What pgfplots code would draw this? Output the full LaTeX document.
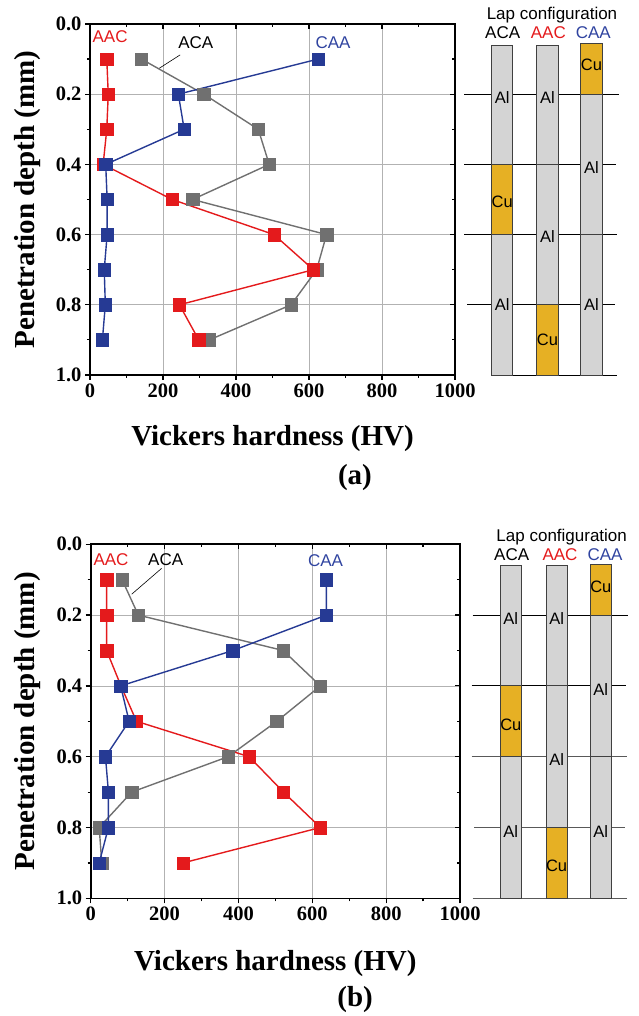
\documentclass[border=0pt]{standalone}
\usepackage{fontspec}
\setmainfont{Liberation Serif}
\newfontfamily\arial{Liberation Sans}
\usepackage{pgfplots}
\pgfplotsset{compat=1.18}
\definecolor{cred}{RGB}{228,26,28}
\definecolor{cblue}{RGB}{38,58,148}
\definecolor{lblue}{RGB}{48,68,160}
\definecolor{cgray}{RGB}{112,112,112}
\definecolor{cu}{RGB}{230,176,36}
\definecolor{al}{RGB}{212,212,212}
\pgfplotsset{
  hvbase/.style={scale only axis, xmin=0, xmax=1000, ymin=0, ymax=1, y dir=reverse,
    xtick={0,200,400,600,800,1000}, ytick={0,0.2,0.4,0.6,0.8,1},
    minor x tick num=1, minor y tick num=1,
    major tick length=5pt, minor tick length=3pt,
    every tick/.style={black, line width=1.2pt},
    /pgf/number format/assume math mode=true,
    /pgf/number format/1000 sep={},
    yticklabel style={/pgf/number format/fixed, /pgf/number format/fixed zerofill, /pgf/number format/precision=1},
    tick label style={font=\fontsize{20.5}{20.5}\selectfont\bfseries},
  },
  hvmain/.style={hvbase, axis line style={line width=1.6pt}, tick align=outside,
    xtick pos=left, ytick pos=left, grid=major,
    major grid style={draw=black!30, line width=0.8pt}, clip=false,
    label style={font=\fontsize{29}{29}\selectfont\bfseries},
    xlabel={Vickers hardness (HV)}, ylabel={Penetration depth (mm)},
  },
  hvover/.style={hvbase, axis line style={draw=none}, tick align=inside,
    xtick pos=right, ytick pos=right, xticklabels={}, yticklabels={}},
  sch/.style={scale only axis, xmin=460, xmax=638, ymin=0, ymax=1, y dir=reverse, hide axis, clip=false},
  sg/.style={cgray, line width=1.4pt, mark=square*, mark size=6.2pt, mark options={fill=cgray, draw=cgray, line width=0.4pt}},
  sr/.style={cred, line width=1.4pt, mark=square*, mark size=6.2pt, mark options={fill=cred, draw=cred, line width=0.4pt}},
  sb/.style={cblue, line width=1.4pt, mark=square*, mark size=6.2pt, mark options={fill=cblue, draw=cblue, line width=0.4pt}},
}
\tikzset{
  lab/.style={font=\arial\fontsize{17}{17}\selectfont, inner sep=0pt},
  sl/.style={font=\arial\fontsize{16.5}{16.5}\selectfont, inner sep=0pt},
  alb/.style={fill=al, draw=black!75, line width=0.8pt},
  cub/.style={fill=cu, draw=black!75, line width=0.8pt},
}
\begin{document}
\begin{tikzpicture}
\useasboundingbox (0,0) rectangle (638pt,1016pt);
% ---------------- panel (a) ----------------
\begin{axis}[hvmain, at={(90pt,641pt)}, anchor=south west, width=365pt, height=351pt,
  xlabel style={at={(axis description cs:0.5,-0.182)}, anchor=center},
  ylabel style={at={(axis description cs:-0.17,0.5)}, anchor=center}]
\addplot[sg] coordinates {(141,0.1) (312,0.2) (461,0.3) (491,0.4) (281,0.5) (648,0.6) (621,0.7) (551,0.8) (327,0.9)};
\addplot[sr] coordinates {(46,0.1) (50,0.2) (46,0.3) (36,0.4) (225,0.5) (504,0.6) (612,0.7) (245,0.8) (298,0.9)};
\addplot[sb] coordinates {(625,0.1) (242,0.2) (258,0.3) (43,0.4) (47,0.5) (47,0.6) (39,0.7) (42,0.8) (34,0.9)};
\node[lab, text=cred] at (axis cs:55,0.037) {AAC};
\node[lab, text=black] at (axis cs:290,0.054) {ACA};
\node[lab, text=lblue] at (axis cs:666,0.054) {CAA};
\draw[black, line width=0.6pt] (axis cs:190,0.126) -- (axis cs:247,0.088);
\node[font=\fontsize{29}{29}\selectfont\bfseries] at (axis description cs:0.726,-0.293) {(a)};
\end{axis}
\begin{axis}[hvover, at={(90pt,641pt)}, anchor=south west, width=365pt, height=351pt]
\addplot[draw=none] coordinates {(0,0)};
\end{axis}
\begin{axis}[sch, at={(460pt,641pt)}, anchor=south west, width=178pt, height=351pt]
\addplot[draw=none] coordinates {(500,0.5)};
\draw[black, line width=0.8pt] (axis cs:464,0.2) -- (axis cs:619,0.2);
\draw[black, line width=0.8pt] (axis cs:464,0.4) -- (axis cs:616,0.4);
\draw[black, line width=0.8pt] (axis cs:464,0.6) -- (axis cs:617,0.6);
\draw[black, line width=0.8pt] (axis cs:467,0.8) -- (axis cs:615,0.8);
\draw[black, line width=0.8pt] (axis cs:491,1) -- (axis cs:617,1);
% ACA
\filldraw[alb] (axis cs:491.7,0.06) rectangle (axis cs:512.7,0.4);
\filldraw[cub] (axis cs:491.7,0.4) rectangle (axis cs:512.7,0.6);
\filldraw[alb] (axis cs:491.7,0.6) rectangle (axis cs:512.7,1);
% AAC
\filldraw[alb] (axis cs:536.7,0.06) rectangle (axis cs:558.3,0.4);
\filldraw[alb] (axis cs:536.7,0.4) rectangle (axis cs:558.3,0.8);
\filldraw[cub] (axis cs:536.7,0.8) rectangle (axis cs:558.3,1);
% CAA
\filldraw[cub] (axis cs:580.7,0.055) rectangle (axis cs:602.3,0.2);
\filldraw[alb] (axis cs:580.7,0.2) rectangle (axis cs:602.3,0.6);
\filldraw[alb] (axis cs:580.7,0.6) rectangle (axis cs:602.3,1);
\node[sl] at (axis cs:502.2,0.21) {Al};
\node[sl] at (axis cs:502.2,0.506) {Cu};
\node[sl] at (axis cs:502.2,0.80) {Al};
\node[sl] at (axis cs:547.5,0.21) {Al};
\node[sl] at (axis cs:547.5,0.606) {Al};
\node[sl] at (axis cs:547.5,0.90) {Cu};
\node[sl] at (axis cs:591.5,0.117) {Cu};
\node[sl] at (axis cs:591.5,0.41) {Al};
\node[sl] at (axis cs:591.5,0.80) {Al};
\node[lab] at (axis cs:552,-0.026) {Lap configuration};
\node[lab, text=black] at (axis cs:502.7,0.026) {ACA};
\node[lab, text=cred] at (axis cs:548.3,0.026) {AAC};
\node[lab, text=lblue] at (axis cs:593.3,0.026) {CAA};
\end{axis}
% ---------------- panel (b) ----------------
\begin{axis}[hvmain, at={(90.7pt,117.7pt)}, anchor=south west, width=369.3pt, height=354pt,
  xlabel style={at={(axis description cs:0.5,-0.183)}, anchor=center},
  ylabel style={at={(axis description cs:-0.17,0.5)}, anchor=center}]
\addplot[sg] coordinates {(85,0.1) (129,0.2) (521,0.3) (622,0.4) (504,0.5) (372,0.6) (111,0.7) (23,0.8) (30,0.9)};
\addplot[sr] coordinates {(43,0.1) (43,0.2) (43,0.3) (82,0.4) (124,0.5) (429,0.6) (522,0.7) (622,0.8) (250,0.9)};
\addplot[sb] coordinates {(638,0.1) (638,0.2) (385,0.3) (81,0.4) (104,0.5) (40,0.6) (48,0.7) (48,0.8) (23,0.9)};
\node[lab, text=cred] at (axis cs:55,0.042) {AAC};
\node[lab, text=black] at (axis cs:203,0.042) {ACA};
\node[lab, text=lblue] at (axis cs:636,0.047) {CAA};
\draw[black, line width=0.6pt] (axis cs:111,0.141) -- (axis cs:192,0.068);
\node[font=\fontsize{29}{29}\selectfont\bfseries] at (axis description cs:0.716,-0.285) {(b)};
\end{axis}
\begin{axis}[hvover, at={(90.7pt,117.7pt)}, anchor=south west, width=369.3pt, height=354pt]
\addplot[draw=none] coordinates {(0,0)};
\end{axis}
\begin{axis}[sch, at={(460pt,117.7pt)}, anchor=south west, width=178pt, height=354pt]
\addplot[draw=none] coordinates {(500,0.5)};
\draw[black, line width=0.8pt] (axis cs:472.7,0.2) -- (axis cs:628.3,0.2);
\draw[black, line width=0.8pt] (axis cs:471.7,0.4) -- (axis cs:625.7,0.4);
\draw[black!65, line width=0.8pt] (axis cs:471.7,0.6) -- (axis cs:626.7,0.6);
\draw[black!65, line width=0.8pt] (axis cs:474,0.8) -- (axis cs:625,0.8);
\draw[black!65, line width=0.8pt] (axis cs:472.7,1) -- (axis cs:626.7,1);
% ACA
\filldraw[alb] (axis cs:500,0.06) rectangle (axis cs:521.7,0.4);
\filldraw[cub] (axis cs:500,0.4) rectangle (axis cs:521.7,0.6);
\filldraw[alb] (axis cs:500,0.6) rectangle (axis cs:521.7,1);
% AAC
\filldraw[alb] (axis cs:546,0.06) rectangle (axis cs:567.3,0.4);
\filldraw[alb] (axis cs:546,0.4) rectangle (axis cs:567.3,0.8);
\filldraw[cub] (axis cs:546,0.8) rectangle (axis cs:567.3,1);
% CAA
\filldraw[cub] (axis cs:590,0.056) rectangle (axis cs:611.7,0.2);
\filldraw[alb] (axis cs:590,0.2) rectangle (axis cs:611.7,0.6);
\filldraw[alb] (axis cs:590,0.6) rectangle (axis cs:611.7,1);
\node[sl] at (axis cs:510.8,0.209) {Al};
\node[sl] at (axis cs:510.8,0.51) {Cu};
\node[sl] at (axis cs:510.8,0.81) {Al};
\node[sl] at (axis cs:556.6,0.209) {Al};
\node[sl] at (axis cs:556.6,0.607) {Al};
\node[sl] at (axis cs:556.6,0.909) {Cu};
\node[sl] at (axis cs:600.8,0.12) {Cu};
\node[sl] at (axis cs:600.8,0.41) {Al};
\node[sl] at (axis cs:600.8,0.81) {Al};
\node[lab] at (axis cs:561.7,-0.021) {Lap configuration};
\node[lab, text=black] at (axis cs:511.7,0.030) {ACA};
\node[lab, text=cred] at (axis cs:560,0.030) {AAC};
\node[lab, text=lblue] at (axis cs:605,0.030) {CAA};
\end{axis}
\end{tikzpicture}
\end{document}
